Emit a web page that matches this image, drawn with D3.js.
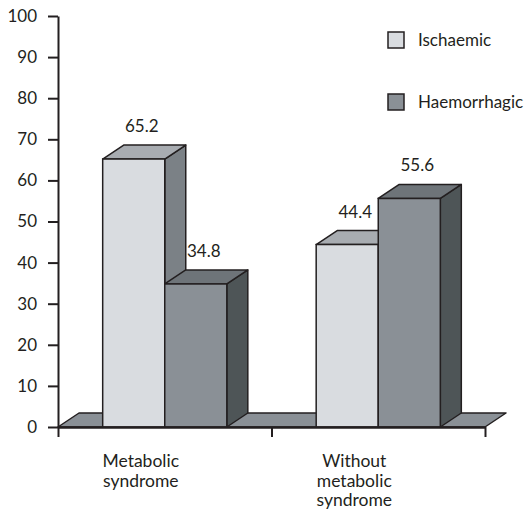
<!DOCTYPE html>
<html>
<head>
<meta charset="utf-8">
<script src="https://cdn.jsdelivr.net/npm/d3@7"></script>
<style>
    body { margin: 0; background: #fff; }
    text { font-family: Lato, "Open Sans", sans-serif; fill: #231f20; }
</style>
</head>
<body>
<div id="chart"></div>
<script>
// data
const categories = [["Metabolic", "syndrome"], ["Without", "metabolic", "syndrome"]];
const series = ["Ischaemic", "Haemorrhagic"];
const values = [[65.2, 34.8], [44.4, 55.6]];
const yTicks = [0, 10, 20, 30, 40, 50, 60, 70, 80, 90, 100];

// colours per series: front, top, side
const colors = {
    Ischaemic: {front: "#d9dce0", top: "#a8acb1", side: "#7b8186"},
    Haemorrhagic: {front: "#8a9096", top: "#6e7479", side: "#4e5557"}
};
const ink = "#231f20";

let width = 530, height = 510;
let depth = {x: 21, y: -14};

let svg = d3.select("#chart").append("svg")
    .attr("width", width)
    .attr("height", height);

let x = d3.scaleBand()
    .domain(d3.range(categories.length))
    .range([58, 485])
    .paddingInner(0)
    .paddingOuter(0);

let xSub = d3.scaleBand()
    .domain(series)
    .range([0, x.bandwidth()])
    .paddingInner(0)
    .paddingOuter(0.72);

let y = d3.scaleLinear()
    .domain([0, 100])
    .range([427, 16]);

// floor
let x0 = x.range()[0], x1 = x.range()[1], y0 = y(0);
svg.append("path")
    .attr("d", `M${x0},${y0} L${x1},${y0} L${x1 + depth.x},${y0 + depth.y} L${x0 + depth.x},${y0 + depth.y} Z`)
    .attr("fill", "#8a9096")
    .attr("stroke", ink)
    .attr("stroke-width", 1.5)
    .attr("stroke-linejoin", "round");

// bars
let bars = [];
values.forEach((row, i) => {
    row.forEach((v, j) => bars.push({cat: i, key: series[j], value: v}));
});

let g = svg.selectAll(".bar")
    .data(bars)
    .enter().append("g")
    .attr("class", "bar");

g.each(function (d) {
    let el = d3.select(this);
    let bx = x(d.cat) + xSub(d.key);
    let bw = xSub.bandwidth();
    let top = y(d.value);
    let c = colors[d.key];

    // side
    el.append("path")
        .attr("d", `M${bx + bw},${top} L${bx + bw + depth.x},${top + depth.y} L${bx + bw + depth.x},${y0 + depth.y} L${bx + bw},${y0} Z`)
        .attr("fill", c.side)
        .attr("stroke", ink).attr("stroke-width", 1.5).attr("stroke-linejoin", "round");
    // top
    el.append("path")
        .attr("d", `M${bx},${top} L${bx + depth.x},${top + depth.y} L${bx + bw + depth.x},${top + depth.y} L${bx + bw},${top} Z`)
        .attr("fill", c.top)
        .attr("stroke", ink).attr("stroke-width", 1.5).attr("stroke-linejoin", "round");
    // front
    el.append("rect")
        .attr("x", bx)
        .attr("y", top)
        .attr("width", bw)
        .attr("height", y0 - top)
        .attr("fill", c.front)
        .attr("stroke", ink).attr("stroke-width", 1.5);
});

// value labels
svg.selectAll(".value")
    .data(bars)
    .enter().append("text")
    .attr("class", "value")
    .attr("x", d => x(d.cat) + xSub(d.key) + xSub.bandwidth() / 2 + 8)
    .attr("y", d => y(d.value) + depth.y - 13)
    .attr("text-anchor", "middle")
    .style("font-size", "17px")
    .text(d => d.value);

// y axis
let yAxis = svg.append("g")
    .attr("transform", `translate(${x0},0)`)
    .call(d3.axisLeft(y).tickValues(yTicks).tickSize(10).tickSizeOuter(0).tickPadding(11));
yAxis.select(".domain").attr("stroke", ink).attr("stroke-width", 2);
yAxis.selectAll(".tick line").attr("stroke", ink).attr("stroke-width", 2);
yAxis.selectAll(".tick text").style("font-size", "17px").attr("fill", ink)
    .style("font-family", 'Lato, "Open Sans", sans-serif');

// x axis (ticks at band boundaries)
let xb = d3.scaleLinear().domain([0, categories.length]).range(x.range());
let xAxis = svg.append("g")
    .attr("transform", `translate(0,${y0})`)
    .call(d3.axisBottom(xb).tickValues(d3.range(categories.length + 1)).tickSize(10).tickSizeOuter(0).tickFormat(""));
xAxis.select(".domain").attr("stroke", ink).attr("stroke-width", 2.5);
xAxis.selectAll(".tick line").attr("stroke", ink).attr("stroke-width", 2);

// category labels
svg.selectAll(".cat")
    .data(categories)
    .enter().append("text")
    .attr("class", "cat")
    .attr("text-anchor", "middle")
    .attr("transform", (d, i) => `translate(${x(i) + x.bandwidth() / 2 - 24}, 467)`)
    .style("font-size", "17.5px")
    .selectAll("tspan")
    .data(d => d)
    .enter().append("tspan")
    .attr("x", 0)
    .attr("y", (d, i) => i * 19.5)
    .text(d => d);

// legend
let legend = svg.selectAll(".legend")
    .data(series)
    .enter().append("g")
    .attr("class", "legend")
    .attr("transform", (d, i) => `translate(388, ${32 + i * 62})`);

legend.append("rect")
    .attr("width", 16)
    .attr("height", 16)
    .attr("fill", d => colors[d].front)
    .attr("stroke", ink)
    .attr("stroke-width", 1.5);

legend.append("text")
    .attr("x", 30)
    .attr("y", 14)
    .style("font-size", "17px")
    .text(d => d);
</script>
</body>
</html>
